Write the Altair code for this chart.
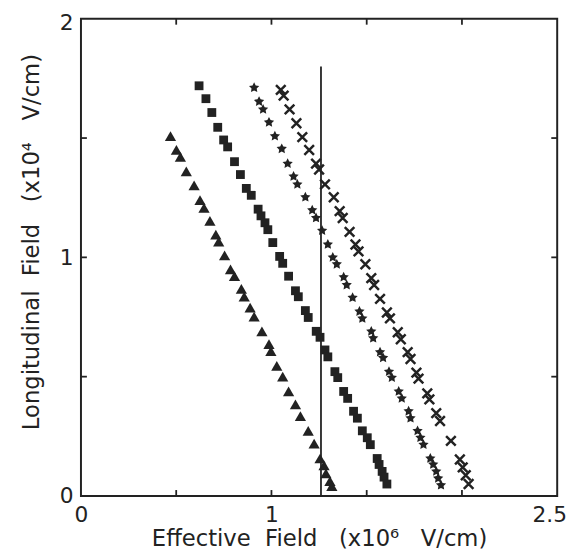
import altair as alt
import pandas as pd

# ---- data ----
tri_x = [0.470, 0.501, 0.522, 0.553, 0.594, 0.625, 0.646, 0.677, 0.708, 0.723, 0.754, 0.785,
         0.806, 0.842, 0.857, 0.888, 0.909, 0.950, 0.987, 0.997, 1.028, 1.059, 1.090, 1.126,
         1.152, 1.193, 1.224, 1.255, 1.276, 1.286, 1.307, 1.317]
tri_y = [1.508, 1.450, 1.421, 1.360, 1.302, 1.240, 1.207, 1.153, 1.095, 1.066, 1.008, 0.950,
         0.921, 0.868, 0.835, 0.789, 0.752, 0.690, 0.636, 0.607, 0.545, 0.500, 0.438, 0.384,
         0.335, 0.273, 0.219, 0.157, 0.128, 0.095, 0.062, 0.041]

sq_x = [0.620, 0.656, 0.687, 0.718, 0.749, 0.770, 0.806, 0.837, 0.868, 0.894, 0.930, 0.945,
        0.966, 0.981, 1.007, 1.043, 1.059, 1.090, 1.126, 1.141, 1.178, 1.193, 1.235, 1.255,
        1.281, 1.296, 1.333, 1.348, 1.379, 1.400, 1.431, 1.451, 1.477, 1.503, 1.519, 1.555,
        1.565, 1.581, 1.591, 1.606]
sq_y = [1.719, 1.665, 1.607, 1.545, 1.492, 1.463, 1.401, 1.347, 1.289, 1.260, 1.202, 1.174,
        1.145, 1.116, 1.062, 1.004, 0.975, 0.921, 0.860, 0.835, 0.777, 0.748, 0.690, 0.665,
        0.612, 0.583, 0.521, 0.496, 0.438, 0.409, 0.355, 0.326, 0.273, 0.244, 0.215, 0.157,
        0.132, 0.103, 0.079, 0.050]

star_x = [0.909, 0.935, 0.956, 0.987, 1.018, 1.054, 1.085, 1.116, 1.136, 1.178, 1.214, 1.234,
          1.266, 1.296, 1.322, 1.343, 1.379, 1.395, 1.426, 1.462, 1.477, 1.524, 1.534, 1.570,
          1.586, 1.617, 1.632, 1.668, 1.684, 1.720, 1.730, 1.767, 1.782, 1.798, 1.834, 1.849,
          1.865, 1.875, 1.890]
star_y = [1.711, 1.653, 1.620, 1.566, 1.508, 1.455, 1.393, 1.339, 1.306, 1.252, 1.198, 1.165,
          1.112, 1.054, 1.000, 0.971, 0.917, 0.884, 0.831, 0.773, 0.744, 0.690, 0.661, 0.603,
          0.579, 0.521, 0.496, 0.438, 0.409, 0.355, 0.326, 0.273, 0.244, 0.215, 0.157, 0.132,
          0.103, 0.074, 0.045]

cross_x = [1.049, 1.064, 1.095, 1.131, 1.162, 1.198, 1.234, 1.250, 1.281, 1.327, 1.358, 1.374,
           1.410, 1.441, 1.457, 1.493, 1.524, 1.539, 1.570, 1.606, 1.622, 1.663, 1.679, 1.715,
           1.730, 1.761, 1.772, 1.818, 1.829, 1.865, 1.885, 1.942, 1.989, 2.004, 2.020, 2.035]
cross_y = [1.702, 1.678, 1.620, 1.562, 1.504, 1.450, 1.393, 1.368, 1.306, 1.252, 1.194, 1.165,
           1.107, 1.054, 1.025, 0.971, 0.913, 0.884, 0.826, 0.769, 0.744, 0.686, 0.657, 0.603,
           0.574, 0.517, 0.492, 0.430, 0.405, 0.347, 0.314, 0.231, 0.153, 0.120, 0.087, 0.050]

vline_x = [1.26]
vline_y = [0.0]
vline_y2 = [1.8]

x_tick_vals = [0.5, 1.0, 1.5, 2.0]
y_tick_vals = [0.5, 1.0, 1.5]
x_label_vals = [0, 1, 2.5]
y_label_vals = [0, 1, 2]

INK = "#222222"
FONT = "DejaVu Sans"
NB = "\u00a0"
x_title = f"Effective{NB*2}Field{NB*3}(x10\u2076{NB*3}V/cm)"
y_title = f"Longitudinal{NB*2}Field{NB*3}(x10\u2074{NB*3}V/cm)"

W, H = 483, 484

xs = alt.Scale(domain=[0, 2.5], nice=False, zero=False)
ys = alt.Scale(domain=[0, 2], nice=False, zero=False)

x_axis = alt.Axis(values=x_label_vals, title=x_title, grid=False, domain=False, ticks=False,
                  labelFontSize=22, labelFont=FONT, labelColor=INK, labelPadding=9,
                  labelFlush=False, labelExpr="'' + datum.value",
                  labelOffset={"condition": {"test": "datum.value == 2.5", "value": -8}, "value": 0},
                  titleFontSize=23, titleFont=FONT, titleColor=INK, titleFontWeight="normal",
                  titleY=32, titleBaseline="top")
y_axis = alt.Axis(values=y_label_vals, title=y_title, grid=False, domain=False, ticks=False,
                  labelFontSize=22, labelFont=FONT, labelColor=INK, labelPadding=8,
                  labelExpr="'' + datum.value",
                  labelOffset={"condition": {"test": "datum.value == 2", "value": 4}, "value": 0},
                  titleFontSize=23, titleFont=FONT, titleColor=INK, titleFontWeight="normal",
                  titleX=-38, titleY=226)


def X(f="x"):
    return alt.X(f"{f}:Q", scale=xs, axis=x_axis)


def Y(f="y"):
    return alt.Y(f"{f}:Q", scale=ys, axis=y_axis)


tri = pd.DataFrame({"x": tri_x, "y": tri_y})
sq = pd.DataFrame({"x": sq_x, "y": sq_y})
st = pd.DataFrame({"x": star_x, "y": star_y})
cr = pd.DataFrame({"x": cross_x, "y": cross_y})

star_path = ("M0,-1L0.294,-0.405L0.951,-0.309L0.476,0.155L0.588,0.809L0,0.5L-0.588,0.809"
             "L-0.476,0.155L-0.951,-0.309L-0.294,-0.405Z")
x_path = "M-1,-1L1,1M-1,1L1,-1"

l_tri = alt.Chart(tri).mark_point(shape="triangle-up", filled=True, size=130, color=INK,
                                  opacity=1).encode(x=X(), y=Y())
l_sq = alt.Chart(sq).mark_point(shape="square", filled=True, size=80, color=INK,
                                opacity=1).encode(x=X(), y=Y())
l_st = alt.Chart(st).mark_point(shape=star_path, filled=True, size=120, color=INK,
                                opacity=1).encode(x=X(), y=Y())
l_cr = alt.Chart(cr).mark_point(shape=x_path, filled=False, size=95, color=INK, strokeWidth=2.5,
                                opacity=1).encode(x=X(), y=Y())

vl = pd.DataFrame({"x": vline_x, "y": vline_y, "y2": vline_y2})
l_vl = alt.Chart(vl).mark_rule(color=INK, strokeWidth=1.8).encode(x=X(), y=Y(), y2="y2:Q")

xt = pd.DataFrame({"x": x_tick_vals})
yt = pd.DataFrame({"y": y_tick_vals})
TL = 6
l_xb = alt.Chart(xt).mark_rule(color=INK, strokeWidth=1.8).encode(
    x=X(), y=alt.value(H), y2=alt.value(H - TL))
l_xt = alt.Chart(xt).mark_rule(color=INK, strokeWidth=1.8).encode(
    x=X(), y=alt.value(0), y2=alt.value(TL))
l_yl = alt.Chart(yt).mark_rule(color=INK, strokeWidth=1.8).encode(
    y=Y(), x=alt.value(0), x2=alt.value(TL))
l_yr = alt.Chart(yt).mark_rule(color=INK, strokeWidth=1.8).encode(
    y=Y(), x=alt.value(W), x2=alt.value(W - TL))

chart = alt.layer(l_vl, l_xb, l_xt, l_yl, l_yr, l_tri, l_sq, l_st, l_cr).properties(
    width=W, height=H,
    autosize=alt.AutoSizeParams(type="none"),
    padding={"left": 74, "top": 7, "right": 14, "bottom": 58},
    background="white",
).configure_view(stroke=INK, strokeWidth=2)

chart.save("out.html", embed_options={"renderer": "svg", "actions": False})
